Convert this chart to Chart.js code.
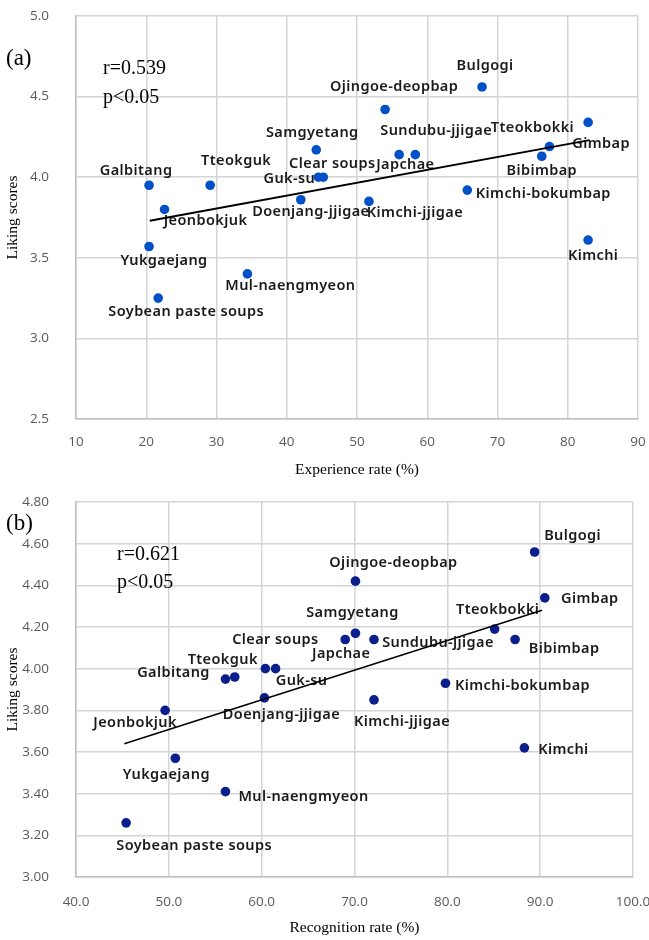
<!DOCTYPE html>
<html>
<head>
<meta charset="utf-8">
<script src="https://cdn.jsdelivr.net/npm/chart.js@4.4.0/dist/chart.umd.min.js"></script>
<style>
  body{margin:0;background:#fff;}
  #wrap{position:relative;width:649px;height:940px;}
  canvas{position:absolute;left:0;}
  .note{position:absolute;font-family:"Liberation Serif","DejaVu Serif",serif;color:#000;line-height:1;transform:translateY(-50%);white-space:nowrap;}
</style>
</head>
<body>
<div id="wrap">
  <canvas id="idGraficaA" width="649" height="480" style="top:0"></canvas>
  <canvas id="idGraficaB" width="649" height="460" style="top:480px"></canvas>
  <div class="note" style="left:6px;top:57px;font-size:23px">(a)</div>
  <div class="note" style="left:103px;top:67px;font-size:20px">r=0.539</div>
  <div class="note" style="left:103px;top:96px;font-size:20px">p&lt;0.05</div>
  <div class="note" style="left:6px;top:522px;font-size:23px">(b)</div>
  <div class="note" style="left:117px;top:553px;font-size:20px">r=0.621</div>
  <div class="note" style="left:117px;top:581px;font-size:20px">p&lt;0.05</div>
</div>
<script>
// platos
var comidas=['Galbitang','Jeonbokjuk','Yukgaejang','Soybean paste soups','Tteokguk','Mul-naengmyeon',
  'Doenjang-jjigae','Samgyetang','Guk-su','Clear soups','Kimchi-jjigae','Ojingoe-deopbap',
  'Sundubu-jjigae','Japchae','Bulgogi','Kimchi-bokumbap','Bibimbap','Tteokbokki','Gimbap','Kimchi'];

// (a) experiencia vs agrado
var experiencia=[20.4,22.6,20.4,21.7,29.1,34.4,42.0,44.2,44.5,45.2,51.7,54.0,56.0,58.3,67.8,65.7,76.3,77.4,82.9,82.9];
var agradoA=[3.95,3.80,3.57,3.25,3.95,3.40,3.86,4.17,4.00,4.00,3.85,4.42,4.14,4.14,4.56,3.92,4.13,4.19,4.34,3.61];
var tendenciaAx=[20.5,83.1];
var tendenciaAy=[3.73,4.23];

// (b) reconocimiento vs agrado
var reconocimiento=[56.1,49.6,50.7,45.4,57.1,56.1,60.3,70.1,61.5,60.4,72.1,70.1,72.1,69.0,89.4,79.8,87.3,85.1,90.5,88.3];
var agradoB=[3.95,3.80,3.57,3.26,3.96,3.41,3.86,4.17,4.00,4.00,3.85,4.42,4.14,4.14,4.56,3.93,4.14,4.19,4.34,3.62];
var tendenciaBx=[45.2,90.2];
var tendenciaBy=[3.64,4.28];

// desplazamiento de etiquetas (px)
var despA=[[-13,-14],[41,11],[15,14],[28,14],[26,-24],[43,12],[10,12],[-4,-17],[-29,2],[9,-13],
  [46,11],[9,-23],[37,-24],[-10,10],[3,-21],[76,4],[0,15],[-17,-19],[13,21],[5,16]];
var despB=[[-52,-6],[-30,13],[-9,17],[68,23],[-12,-17],[78,5],[17,17],[-3,-20],[26,12],[10,-29],
  [28,22],[38,-18],[64,3],[-4,14],[38,-16],[77,3],[49,9],[3,-19],[45,1],[39,2]];

function puntos(xs,ys){
  var r=[];
  for(let i in xs){ r.push({x:xs[i],y:ys[i]}); }
  return r;
}

var etiquetas={
  id:'etiquetas',
  beforeDatasetsDraw:function(chart){
    var ctx=chart.ctx;
    var meta=chart.getDatasetMeta(0);
    var desp=chart.options.plugins.etiquetas.desp;
    ctx.save();
    ctx.font='600 14.5px "Noto Sans", sans-serif';
    ctx.letterSpacing='0.4px';
    ctx.fillStyle='#1a1a1a';
    ctx.textAlign='center';
    ctx.textBaseline='middle';
    meta.data.forEach(function(p,i){
      ctx.fillText(comidas[i],p.x+desp[i][0],p.y+desp[i][1]);
    });
    ctx.restore();
  }
};

function grafica(id,cfg){
  var ctx=document.getElementById(id).getContext('2d');
  return new Chart(ctx,{
    type:'scatter',
    data:{
      datasets:[
        {
          data:puntos(cfg.xs,cfg.ys),
          backgroundColor:cfg.color,
          borderWidth:0,
          pointRadius:4.8,
          order:2
        },
        {
          data:puntos(cfg.tx,cfg.ty),
          showLine:true,
          borderColor:'#000',
          borderWidth:cfg.lw,
          pointRadius:0,
          order:1
        }
      ]
    },
    options:{
      responsive:false,
      animation:false,
      layout:{padding:{left:0,right:cfg.pr,top:cfg.pt,bottom:0}},
      plugins:{legend:{display:false},tooltip:{enabled:false},etiquetas:{desp:cfg.desp}},
      scales:{
        x:{
          min:cfg.xmin,max:cfg.xmax,
          ticks:{stepSize:10,padding:cfg.xpad,color:'#595959',font:{family:'"Open Sans", sans-serif',size:13.5},
            callback:function(v){return cfg.xdec?v.toFixed(1):v;}},
          grid:{color:'#d4d4d4',lineWidth:1.5,drawTicks:false},
          border:{color:'#bfbfbf',width:1.5},
          title:{display:true,text:cfg.xtit,color:'#000',font:{family:'"Liberation Serif", serif',size:15.5},padding:{top:0,bottom:cfg.tpb}},
          afterFit:function(s){s.height=cfg.xh;s.paddingLeft=0;s.paddingRight=0;}
        },
        y:{
          min:cfg.ymin,max:cfg.ymax,
          ticks:{stepSize:cfg.ystep,padding:27,color:'#595959',font:{family:'"Open Sans", sans-serif',size:13.5},
            callback:function(v){return v.toFixed(cfg.ydec);}},
          grid:{color:'#d4d4d4',lineWidth:1.5,drawTicks:false},
          border:{color:'#bfbfbf',width:1.5},
          title:{display:true,text:'Liking scores',color:'#000',font:{family:'"Liberation Serif", serif',size:15.5},padding:{top:4,bottom:0}},
          afterFit:function(s){s.width=76;s.paddingTop=0;s.paddingBottom=0;}
        }
      }
    },
    plugins:[etiquetas]
  });
}

grafica('idGraficaA',{xs:experiencia,ys:agradoA,tx:tendenciaAx,ty:tendenciaAy,desp:despA,
  color:'#0050c8',lw:2,pr:11,pt:16,xh:61,xpad:15,tpb:1,xmin:10,xmax:90,xdec:false,
  ymin:2.5,ymax:5.0,ystep:0.5,ydec:1,xtit:'Experience rate (%)'});
grafica('idGraficaB',{xs:reconocimiento,ys:agradoB,tx:tendenciaBx,ty:tendenciaBy,desp:despB,
  color:'#0a1e8c',lw:1.5,pr:16,pt:22,xh:63,xpad:17,tpb:3,xmin:40,xmax:100,xdec:true,
  ymin:3.0,ymax:4.8,ystep:0.2,ydec:2,xtit:'Recognition rate (%)'});
</script>
</body>
</html>
